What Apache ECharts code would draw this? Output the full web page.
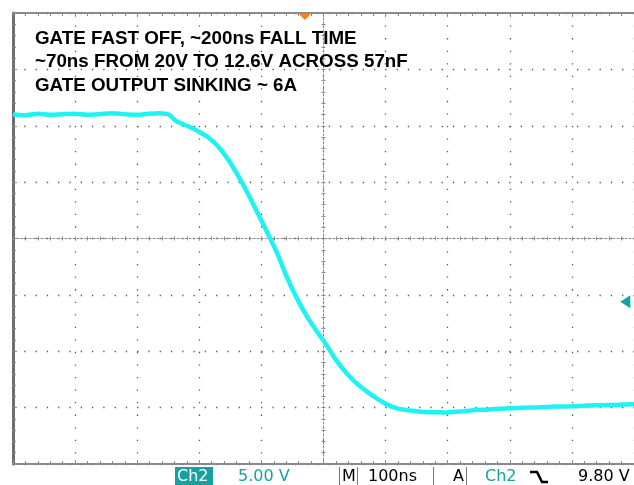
<!DOCTYPE html>
<html>
<head>
<meta charset="utf-8">
<script src="https://cdn.jsdelivr.net/npm/echarts@6/dist/echarts.min.js"></script>
<style>
html,body{margin:0;padding:0;background:#fff;}
#chart{width:634px;height:485px;}
</style>
</head>
<body>
<div id="chart"></div>
<script>
// Time (ns from left edge of screen, 100 ns/div) and CH2 voltage (V, 5 V/div)
const timeNs = [0,19,40,59,80,100,120,139,159,179,199,218,234,245,253,261,274,282,298,314,330,346,362,378,394,410,426,441,457,473,489,505,518,537,553,569,585,601,617,633,649,665,680,696,712,728,744,760,776,800,824,848,872,900,928,951,975,1000];
const ch2Volts = [26.42,26.33,26.46,26.37,26.42,26.46,26.37,26.42,26.51,26.42,26.37,26.46,26.51,26.46,26.33,25.88,25.53,25.35,24.91,24.38,23.58,22.43,21.01,19.42,17.64,15.87,14.01,11.97,10.11,8.51,7.18,5.94,4.79,3.46,2.57,1.86,1.24,0.71,0.35,0.18,0.09,0,0,-0.04,0.04,0.09,0.18,0.22,0.27,0.35,0.40,0.44,0.49,0.53,0.58,0.62,0.66,0.71];
const annotationLines = ['GATE FAST OFF, ~200ns FALL TIME','~70ns FROM 20V TO 12.6V ACROSS 57nF','GATE OUTPUT SINKING ~ 6A'];
const triggerTimeNs = 470;   // trigger position marker
const triggerLevelV = 9.80;  // trigger level
const statusTexts = {ch:'Ch2', vdiv:'5.00 V', m:'M', tdiv:'100ns', a:'A', trigCh:'Ch2', trigLevel:'9.80 V'};

const GRID = '#8a8a8a';
const DOT = '#555555';
const TEAL = '#17a2a2';
const chart = echarts.init(document.getElementById('chart'), null, {renderer:'canvas'});

const frameAxis = (extra) => Object.assign({
  type:'value', gridIndex:0,
  axisLabel:{show:false},
  axisLine:{show:true, onZero:false, lineStyle:{color:GRID, width:2}},
  axisTick:{show:true, inside:true, length:4, lineStyle:{color:GRID}},
  minorTick:{show:true, splitNumber:5, length:3, lineStyle:{color:GRID}},
  splitLine:{show:false}
}, extra);

const option = {
  animation:false,
  backgroundColor:'#ffffff',
  grid:{left:13, top:13, width:627.5, height:451, containLabel:false},
  xAxis:[
    {type:'value', min:0, max:1000, show:false, axisLine:{onZero:false}},
    frameAxis({min:-5, max:5, interval:1, position:'bottom',
      splitLine:{show:true, lineStyle:{color:DOT, width:1.3, type:[1.3,11.25]}}}),
    frameAxis({min:-5, max:5, interval:1, position:'top'}),
    frameAxis({min:-5, max:5, interval:1, position:'bottom',
      axisLine:{show:true, onZero:true, onZeroAxisIndex:1, lineStyle:{color:GRID, width:1, type:[2,2]}},
      axisTick:{show:true, inside:false, length:2, lineStyle:{color:GRID}},
      minorTick:{show:true, splitNumber:5, length:2, lineStyle:{color:GRID}}}),
    frameAxis({min:-5, max:5, interval:1, position:'bottom',
      axisLine:{show:false, onZero:true, onZeroAxisIndex:1},
      axisTick:{show:true, inside:true, length:2, lineStyle:{color:GRID}},
      minorTick:{show:true, splitNumber:5, length:2, lineStyle:{color:GRID}}})
  ],
  yAxis:[
    {type:'value', min:-4.6, max:35.4, show:false, axisLine:{onZero:false}},
    frameAxis({min:-4, max:4, interval:1, position:'left',
      axisLine:{show:true, onZero:false, lineStyle:{color:'#6f6f6f', width:3}},
      splitLine:{show:true, lineStyle:{color:DOT, width:1.3, type:[1.3,9.98]}}}),
    frameAxis({min:-4, max:4, interval:1, position:'left',
      axisLine:{show:true, onZero:true, onZeroAxisIndex:1, lineStyle:{color:GRID, width:1, type:[2,2]}},
      axisTick:{show:true, inside:false, length:2, lineStyle:{color:GRID}},
      minorTick:{show:true, splitNumber:5, length:2, lineStyle:{color:GRID}}}),
    frameAxis({min:-4, max:4, interval:1, position:'left',
      axisLine:{show:false, onZero:true, onZeroAxisIndex:1},
      axisTick:{show:true, inside:true, length:2, lineStyle:{color:GRID}},
      minorTick:{show:true, splitNumber:5, length:2, lineStyle:{color:GRID}}})
  ],
  series:[{
    type:'line', xAxisIndex:0, yAxisIndex:0,
    data: timeNs.map((t,i)=>[t, ch2Volts[i]]),
    showSymbol:false, smooth:0.3,
    lineStyle:{color:'#1ff2f2', width:4.5},
    z:5,
    markPoint:{
      silent:true, label:{show:false},
      data:[
        {coord:[triggerTimeNs, 35.1], symbol:'triangle', symbolRotate:180, symbolSize:[14,7], itemStyle:{color:'#ff7f0f'}},
        {coord:[986, triggerLevelV], symbol:'triangle', symbolRotate:90, symbolSize:[13,10], itemStyle:{color:TEAL}}
      ]
    }
  }],
  graphic:[
    ...annotationLines.map((s,i)=>({type:'text', x:35, y:38.5 + i*23.5, z:10,
      style:{text:s, font:'bold 18.8px "Liberation Sans", Arial, sans-serif', fill:'#000', verticalAlign:'middle'}})),
    {type:'rect', shape:{x:175, y:467, width:38, height:18}, style:{fill:TEAL}, z:10},
    {type:'text', x:177, y:476.5, z:11, style:{text:statusTexts.ch, font:'16px "DejaVu Sans", sans-serif', fill:'#fff', verticalAlign:'middle'}},
    {type:'text', x:238, y:476.5, z:11, style:{text:statusTexts.vdiv, font:'16px "DejaVu Sans", sans-serif', fill:TEAL, verticalAlign:'middle'}},
    {type:'line', shape:{x1:339.5, y1:467, x2:339.5, y2:485}, style:{stroke:'#777', lineWidth:1}, z:10},
    {type:'text', x:342, y:476.5, z:11, style:{text:statusTexts.m, font:'16px "DejaVu Sans", sans-serif', fill:'#000', verticalAlign:'middle'}},
    {type:'line', shape:{x1:357.5, y1:467, x2:357.5, y2:485}, style:{stroke:'#777', lineWidth:1}, z:10},
    {type:'text', x:368, y:476.5, z:11, style:{text:statusTexts.tdiv, font:'16px "DejaVu Sans", sans-serif', fill:'#000', verticalAlign:'middle'}},
    {type:'line', shape:{x1:433.5, y1:467, x2:433.5, y2:485}, style:{stroke:'#777', lineWidth:1}, z:10},
    {type:'text', x:453, y:476.5, z:11, style:{text:statusTexts.a, font:'16px "DejaVu Sans", sans-serif', fill:'#000', verticalAlign:'middle'}},
    {type:'line', shape:{x1:466.5, y1:467, x2:466.5, y2:485}, style:{stroke:'#777', lineWidth:1}, z:10},
    {type:'text', x:485, y:476.5, z:11, style:{text:statusTexts.trigCh, font:'16px "DejaVu Sans", sans-serif', fill:TEAL, verticalAlign:'middle'}},
    {type:'polyline', shape:{points:[[530,472],[537,472],[542,482],[548,482]]}, style:{stroke:'#000', lineWidth:2.5, fill:null}, z:11},
    {type:'text', x:578, y:476.5, z:11, style:{text:statusTexts.trigLevel, font:'16px "DejaVu Sans", sans-serif', fill:'#000', verticalAlign:'middle'}}
  ]
};
chart.setOption(option);
</script>
</body>
</html>
